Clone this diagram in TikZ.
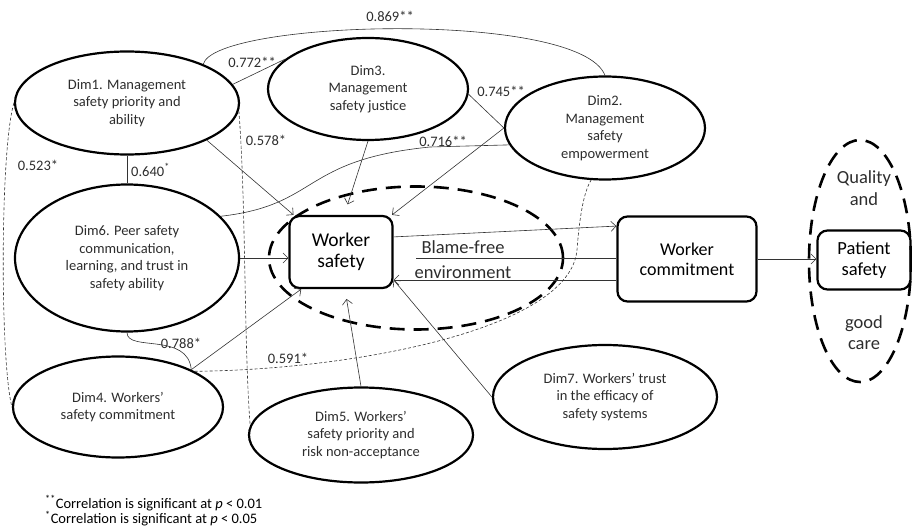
\documentclass[tikz,border=0pt]{standalone}
\usepackage{fontspec}
\setmainfont{Carlito}
\usetikzlibrary{arrows.meta,shapes.geometric}
\definecolor{DimGray}{RGB}{45,45,45}
\tikzset{
  dim/.style={ellipse,draw,line width=2.2pt,inner sep=0pt,align=center,
    font=\fontsize{14.5}{17.5}\selectfont,text=DimGray},
  box/.style={draw,rounded corners=10pt,line width=2.2pt,align=center,
    font=\fontsize{18}{20}\selectfont},
  zone/.style={ellipse,draw,line width=2.6pt,dash pattern=on 15pt off 9pt,
    inner sep=0pt},
  corr/.style={line width=0.6pt,draw=black!80},
  dcorr/.style={corr,dash pattern=on 3pt off 2pt},
  arrow/.style={-{Straight Barb[length=5pt,width=10pt]},line width=0.6pt,
    draw=black!80},
  lab/.style={font=\fontsize{14.5}{17}\selectfont,inner sep=0pt,text=DimGray},
  txt/.style={font=\fontsize{18.5}{20}\selectfont,inner sep=0pt,text=DimGray},
  note/.style={font=\fontsize{14.5}{15.5}\selectfont,inner sep=0pt,anchor=west,
    align=left}
}

\begin{document}
\begin{tikzpicture}[x=1pt,y=-1pt]
  \useasboundingbox (0,0) rectangle (912,529);
  % dashed zones
  \node[zone,minimum width=294pt,minimum height=143pt] (bf) at (416,258) {};
  \node[zone,minimum width=102pt,minimum height=242pt] (qc) at (860,261) {};
  % dimensions
  \node[dim,minimum width=224pt,minimum height=103pt] (d1) at (127,103)
    {Dim1. Management\\safety priority and\\ability};
  \node[dim,minimum width=200pt,minimum height=102pt] (d3) at (368,89)
    {Dim3.\\Management\\safety justice};
  \node[dim,minimum width=200pt,minimum height=103pt] (d2) at (605,128)
    {Dim2.\\Management\\safety\\empowerment};
  \node[dim,minimum width=224pt,minimum height=147pt] (d6) at (127,258)
    {Dim6. Peer safety\\communication,\\learning, and trust in\\safety ability};
  \node[dim,minimum width=210pt,minimum height=101pt] (d4) at (118,407)
    {Dim4. Workers’\\safety commitment};
  \node[dim,minimum width=224pt,minimum height=95pt] (d5) at (361,435)
    {Dim5. Workers’\\safety priority and\\risk non-acceptance};
  \node[dim,minimum width=224pt,minimum height=104pt] (d7) at (605,397)
    {Dim7. Workers’ trust\\in the efficacy of\\safety systems};
  % outcome boxes
  \node[box,minimum width=103pt,minimum height=72pt,
    font=\fontsize{19.5}{21}\selectfont] (ws) at (341,252) {Worker\\safety};
  \node[box,minimum width=139pt,minimum height=85pt] (wc) at (687,259) {Worker\\commitment};
  \node[box,minimum width=93pt,minimum height=59pt,
    font=\fontsize{18.5}{21}\selectfont] (ps) at (864,260) {Patient\\safety};
  \node[txt] (bft) at (463,247) {Blame-free};
  \node[txt] (bfe) at (463,272) {environment};
  \coordinate (bfl) at (416,258);
  \foreach \i/\t/\y in {1/Quality/179,2/and/199,3/good/324,4/care/345}{
    \node[txt] (qt\i) at (864,\y) {\t};
  }
  % correlations
  \draw[corr] (d1.27) .. controls (215,20) and (580,10) .. (d2.north);
  \draw[corr] (d1.10) -- (d3.160);
  \draw[corr] (d3.-3) -- (d2.west);
  \draw[corr] (d6.24) .. controls (320,205) and (300,160) .. (430,147) -- (d2.190);
  \draw[corr] (d1.south) -- (d6.north);
  \draw[dcorr] (d1.-4) .. controls (246,200) and (244,350) .. (d5.175);
  \draw[dcorr] (d1.west) .. controls (0,150) and (0,360) .. (d4.west);
  \draw[corr] (d6.south) .. controls (127,352) and (188,332) .. (d4.27);
  \draw[dcorr] (d4.25) .. controls (350,370) and (570,330) .. (577,250)
    .. controls (580,210) and (585,190) .. (d2.-105);
  \node[lab] (l869) at (390,16) {0.869**};
  \node[lab] (l772) at (252,62) {0.772**};
  \node[lab] (l745) at (501,91) {0.745**};
  \node[lab] (l716) at (443,141) {0.716**};
  \node[lab,anchor=west] (l640) at (131,170) {0.640\textsuperscript{*}};
  \node[lab] (l578) at (266,140) {0.578*};
  \node[lab] (l523) at (38,165) {0.523*};
  \node[lab] (l788) at (181,343) {0.788*};
  \node[lab] (l591) at (288,358) {0.591*};
  % effects
  \draw[arrow] (d1.-25) -- (ws.142);
  \draw[arrow,shorten >=11pt] (d3.-90) -- (ws.85);
  \draw[arrow] (d2.west) -- (ws.36);
  \draw[arrow] (d6.east) -- (d6.east -| ws.west);
  \draw[arrow] (d4.27) -- (ws.223);
  \draw[arrow,shorten >=10pt] (d5.north) -- (ws.-84);
  \draw[arrow] (d7.west) -- (ws.-28);
  \draw[arrow] (ws.16) -- (wc.155);
  \draw[corr] (bfl) -- (bfl -| wc.west);
  \draw[arrow] (ws.-28 -| wc.west) -- (ws.-28);
  \draw[arrow] (wc.east) -- (wc.east -| ps.west);
  % footnotes
  \node[note] (fn) at (45,511)
    {\textsuperscript{**}Correlation is significant at \textit{p} < 0.01\\
     \textsuperscript{*}Correlation is significant at \textit{p} < 0.05};
\end{tikzpicture}
\end{document}
